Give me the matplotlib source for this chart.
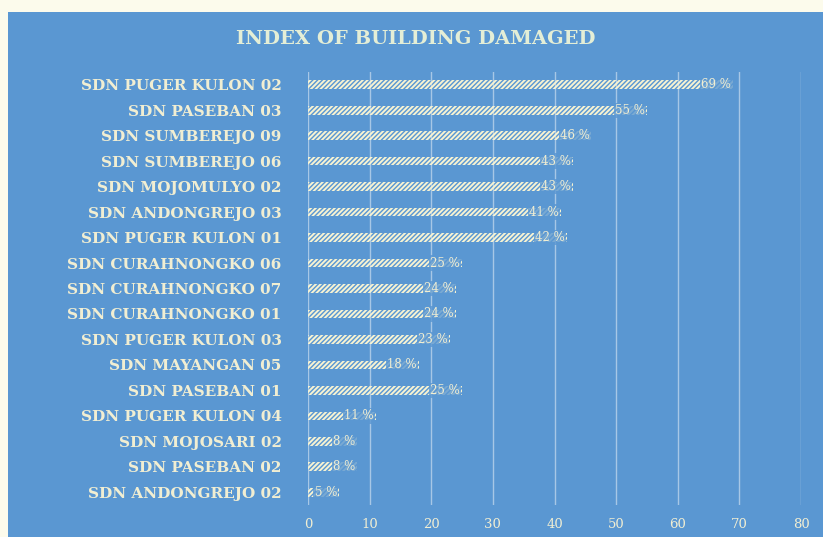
import matplotlib.pyplot as plt
from matplotlib.patches import Rectangle

schools = ['SDN PUGER KULON 02', 'SDN PASEBAN 03', 'SDN SUMBEREJO 09', 'SDN SUMBEREJO 06',
           'SDN MOJOMULYO 02', 'SDN ANDONGREJO 03', 'SDN PUGER KULON 01', 'SDN CURAHNONGKO 06',
           'SDN CURAHNONGKO 07', 'SDN CURAHNONGKO 01', 'SDN PUGER KULON 03', 'SDN MAYANGAN 05',
           'SDN PASEBAN 01', 'SDN PUGER KULON 04', 'SDN MOJOSARI 02', 'SDN PASEBAN 02',
           'SDN ANDONGREJO 02']
damage = [69, 55, 46, 43, 43, 41, 42, 25, 24, 24, 23, 18, 25, 11, 8, 8, 5]
xticks = [0, 10, 20, 30, 40, 50, 60, 70, 80]

bg = '#5a97d2'
txt = '#f1eed2'
serif = 'DejaVu Serif'

plt.rcParams['hatch.linewidth'] = 1.4

fig = plt.figure(figsize=(8.23, 5.37), dpi=100, facecolor='#fcfbec')
fig.patches.append(Rectangle((8 / 823, 0), 1, 1 - 12 / 537, transform=fig.transFigure,
                             facecolor=bg, edgecolor='none', zorder=-10))

ax = fig.add_axes([308 / 823, 32 / 537, 493 / 823, 433 / 537])
ax.set_facecolor('none')

ypos = list(range(len(schools)))
ax.barh(ypos, damage, height=0.34, facecolor='none', edgecolor='#f7f3d2',
        hatch='///////', linewidth=0, zorder=3)

for y, v in zip(ypos, damage):
    ax.text(v - 0.3, y, f'{v} %', ha='right', va='center', fontsize=8.5, family=serif,
            color=txt, zorder=4,
            bbox=dict(boxstyle='square,pad=0.1', facecolor=bg, edgecolor='none', alpha=0.8))

ax.set_xlim(0, 80)
ax.set_ylim(len(schools) - 0.5, -0.5)
ax.set_xticks(xticks)
ax.set_xticklabels([str(t) for t in xticks], family=serif, fontsize=9.5, color=txt)
ax.set_yticks(ypos)
ax.set_yticklabels(schools, family=serif, fontsize=11, fontweight='bold', color=txt)
ax.tick_params(axis='both', length=0)
ax.tick_params(axis='y', pad=19)
ax.tick_params(axis='x', pad=9)
ax.grid(axis='x', color='#c9dcef', linewidth=1, alpha=0.7, zorder=1)
for s in ax.spines.values():
    s.set_visible(False)

fig.text(416 / 823, 1 - 39 / 537, 'INDEX OF BUILDING DAMAGED', ha='center', va='center',
         family=serif, fontsize=14, fontweight='bold', color='#e4eed6')

fig.savefig('out.png', dpi=100, facecolor=fig.get_facecolor())
